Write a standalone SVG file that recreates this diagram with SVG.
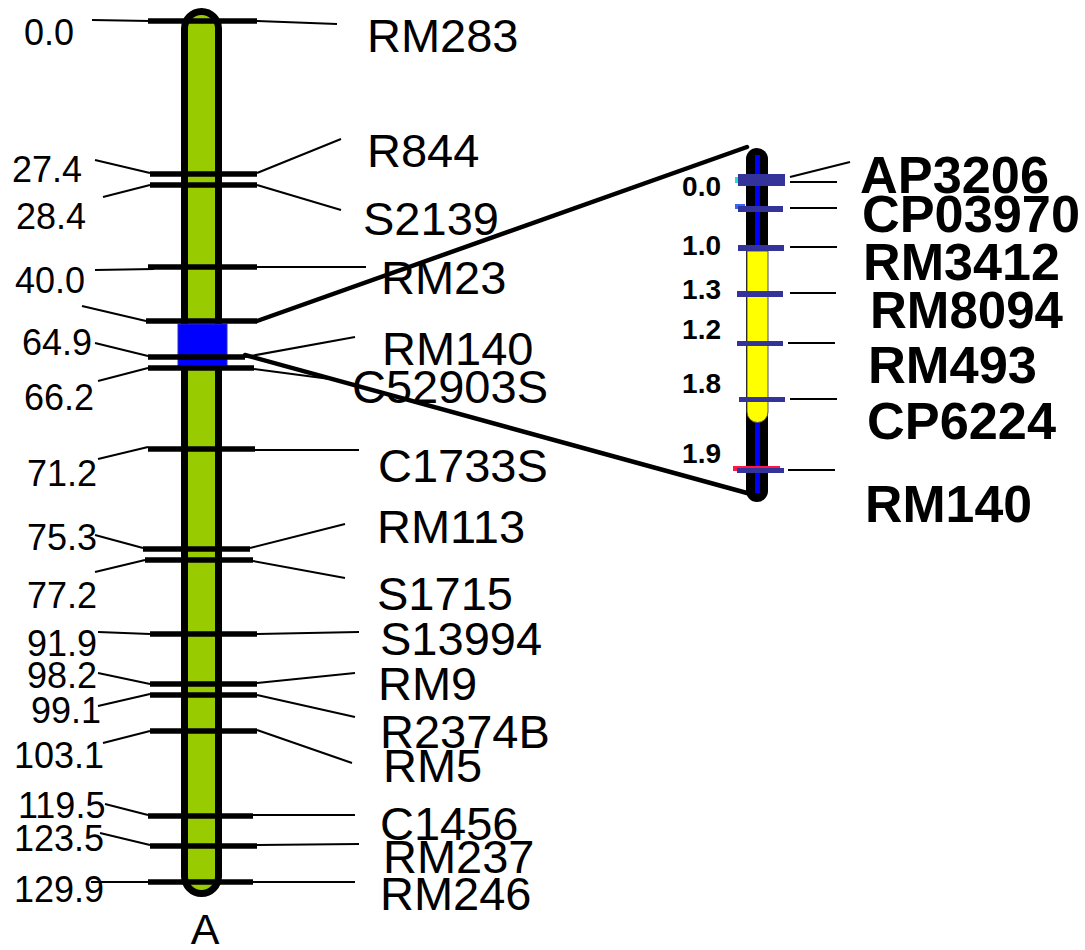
<svg xmlns="http://www.w3.org/2000/svg" width="1085" height="950" viewBox="0 0 1085 950">
<style>
.num{font-family:"Liberation Sans",Arial,sans-serif;font-size:36px;fill:#000}
.lab{font-family:"Liberation Sans",Arial,sans-serif;font-size:47px;fill:#000}
.bnum{font-family:"Liberation Sans",Arial,sans-serif;font-size:28px;font-weight:bold;fill:#000;text-anchor:end}
.blab{font-family:"Liberation Sans",Arial,sans-serif;font-size:51px;font-weight:bold;fill:#000}
.tick{stroke:#000;stroke-width:5.5;fill:none}
.thin{stroke:#000;stroke-width:2;fill:none}
.bar{fill:#333399}
.conn{stroke:#000;stroke-width:4.5;fill:none;stroke-linecap:round}
</style>
<rect width="1085" height="950" fill="#fff"/>
<g id="chromosomeA">
<rect x="184.5" y="11.5" width="34" height="882" rx="17" ry="17" fill="#99cc00" stroke="#000" stroke-width="7"/>
<rect x="178" y="324" width="49" height="42" fill="#0000ff" stroke="#2a2acc" stroke-width="1"/>
<text x="205" y="944" class="lab" text-anchor="middle" style="font-size:43px">A</text>
</g>
<g id="m_RM283"><line class="tick" x1="148" y1="21" x2="257" y2="21"/><polyline class="thin" points="92,20 150,21"/><polyline class="thin" points="257,21 337,24"/><text class="num" x="24" y="45">0.0</text><text class="lab" x="367" y="52">RM283</text></g>
<g id="m_R844"><line class="tick" x1="150" y1="174" x2="257" y2="174"/><polyline class="thin" points="95,160 150,173"/><polyline class="thin" points="257,173 341,139"/><text class="num" x="12" y="182">27.4</text><text class="lab" x="367" y="167">R844</text></g>
<g id="m_S2139"><line class="tick" x1="150" y1="185" x2="257" y2="185"/><polyline class="thin" points="103,197 150,185"/><polyline class="thin" points="257,185 341,210"/><text class="num" x="16" y="229">28.4</text><text class="lab" x="363" y="235">S2139</text></g>
<g id="m_RM23"><line class="tick" x1="148" y1="267" x2="257" y2="267"/><polyline class="thin" points="95,270 154,269"/><polyline class="thin" points="257,267 366,267"/><text class="num" x="15" y="293">40.0</text><text class="lab" x="381" y="294">RM23</text></g>
<g id="m_unlabeled"><line class="tick" x1="146" y1="321" x2="257" y2="321"/><polyline class="thin" points="82,306 146,321"/></g>
<g id="m_RM140"><line class="tick" x1="148" y1="357" x2="245" y2="357"/><polyline class="thin" points="95,343 148,356"/><polyline class="thin" points="245,357 355,337"/><text class="num" x="22" y="355">64.9</text><text class="lab" x="382" y="365">RM140</text></g>
<g id="m_C52903S"><line class="tick" x1="148" y1="368" x2="254" y2="368"/><polyline class="thin" points="98,381 148,368"/><polyline class="thin" points="254,369 330,379"/><text class="num" x="24" y="410">66.2</text><text class="lab" x="352" y="403">C52903S</text></g>
<g id="m_C1733S"><line class="tick" x1="148" y1="449" x2="255" y2="449"/><polyline class="thin" points="98,459 148,447"/><polyline class="thin" points="255,450 359,450"/><text class="num" x="27" y="486">71.2</text><text class="lab" x="378" y="482">C1733S</text></g>
<g id="m_RM113"><line class="tick" x1="143" y1="549" x2="250" y2="549"/><polyline class="thin" points="95,535 143,548"/><polyline class="thin" points="250,548 345,524"/><text class="num" x="27" y="550">75.3</text><text class="lab" x="377" y="543">RM113</text></g>
<g id="m_S1715"><line class="tick" x1="145" y1="560" x2="253" y2="560"/><polyline class="thin" points="95,572 145,560"/><polyline class="thin" points="253,561 345,578"/><text class="num" x="27" y="608">77.2</text><text class="lab" x="377" y="610">S1715</text></g>
<g id="m_S13994"><line class="tick" x1="150" y1="634" x2="257" y2="634"/><polyline class="thin" points="98,632 150,634"/><polyline class="thin" points="257,634 359,632"/><text class="num" x="27" y="656">91.9</text><text class="lab" x="380" y="655">S13994</text></g>
<g id="m_RM9"><line class="tick" x1="150" y1="684" x2="257" y2="684"/><polyline class="thin" points="98,673 150,684"/><polyline class="thin" points="257,683 355,673"/><text class="num" x="27" y="688">98.2</text><text class="lab" x="378" y="700">RM9</text></g>
<g id="m_R2374B"><line class="tick" x1="150" y1="695" x2="257" y2="695"/><polyline class="thin" points="98,706 150,694"/><polyline class="thin" points="257,695 355,717"/><text class="num" x="31" y="723">99.1</text><text class="lab" x="380" y="748">R2374B</text></g>
<g id="m_RM5"><line class="tick" x1="150" y1="731" x2="257" y2="731"/><polyline class="thin" points="103,743 150,731"/><polyline class="thin" points="257,730 352,763"/><text class="num" x="14" y="768">103.1</text><text class="lab" x="383" y="782">RM5</text></g>
<g id="m_C1456"><line class="tick" x1="148" y1="816" x2="253" y2="816"/><polyline class="thin" points="105,804 148,815"/><polyline class="thin" points="253,815 355,815"/><text class="num" x="18" y="818">119.5</text><text class="lab" x="380" y="840">C1456</text></g>
<g id="m_RM237"><line class="tick" x1="150" y1="846" x2="257" y2="846"/><polyline class="thin" points="100,833 150,845"/><polyline class="thin" points="257,845 359,844"/><text class="num" x="14" y="851">123.5</text><text class="lab" x="383" y="873">RM237</text></g>
<g id="m_RM246"><line class="tick" x1="148" y1="882" x2="253" y2="882"/><polyline class="thin" points="91,882 148,882"/><polyline class="thin" points="253,882 355,882"/><text class="num" x="14" y="902">129.9</text><text class="lab" x="380" y="910">RM246</text></g>
<g id="connectors">
<line class="conn" x1="257" y1="321" x2="747" y2="147"/>
<line class="conn" x1="245" y1="355" x2="747" y2="493"/>
</g>
<g id="chromosomeZoom">
<rect x="746" y="148" width="22" height="354" rx="11" ry="11" fill="#000"/>
<rect x="755" y="155" width="5" height="338" fill="#0000ff"/>
<path d="M747,251 H768 V412 A10.5,10.5 0 0 1 747,412 Z" fill="#ffff00" stroke="#555" stroke-width="1"/>
</g>
<g id="z_AP3206"><rect x="735" y="177" width="6" height="6" fill="#22dddd"/><rect class="bar" x="738" y="174" width="47" height="12"/><polyline class="thin" points="790,177 850,162"/><polyline class="thin" points="790,182 837,182"/><text class="bnum" x="721" y="196">0.0</text><text class="blab" x="860" y="193" textLength="189" lengthAdjust="spacingAndGlyphs">AP3206</text></g>
<g id="z_CP03970"><rect x="735" y="204" width="10" height="5" fill="#3366ff"/><rect class="bar" x="738" y="206" width="45" height="6"/><polyline class="thin" points="790,208 837,208"/><text class="blab" x="862" y="232" textLength="218" lengthAdjust="spacingAndGlyphs">CP03970</text></g>
<g id="z_RM3412"><rect class="bar" x="738" y="245" width="46" height="6"/><polyline class="thin" points="790,247 837,247"/><text class="bnum" x="721" y="255">1.0</text><text class="blab" x="863" y="280" textLength="197" lengthAdjust="spacingAndGlyphs">RM3412</text></g>
<g id="z_RM8094"><rect class="bar" x="737" y="291" width="46" height="6"/><polyline class="thin" points="790,293 836,293"/><text class="bnum" x="721" y="299">1.3</text><text class="blab" x="870" y="328" textLength="193" lengthAdjust="spacingAndGlyphs">RM8094</text></g>
<g id="z_RM493"><rect class="bar" x="737" y="341" width="46" height="5"/><polyline class="thin" points="788,343 835,343"/><text class="bnum" x="721" y="339">1.2</text><text class="blab" x="868" y="383" textLength="169" lengthAdjust="spacingAndGlyphs">RM493</text></g>
<g id="z_CP6224"><rect class="bar" x="739" y="397" width="46" height="5"/><polyline class="thin" points="790,399 837,399"/><text class="bnum" x="721" y="393">1.8</text><text class="blab" x="867" y="439" textLength="189" lengthAdjust="spacingAndGlyphs">CP6224</text></g>
<g id="z_RM140"><rect x="733" y="466" width="47" height="5" fill="#ff1744"/><rect class="bar" x="737" y="468" width="47" height="5"/><polyline class="thin" points="788,470 835,470"/><text class="bnum" x="721" y="463">1.9</text><text class="blab" x="865" y="522" textLength="167" lengthAdjust="spacingAndGlyphs">RM140</text></g>
</svg>
